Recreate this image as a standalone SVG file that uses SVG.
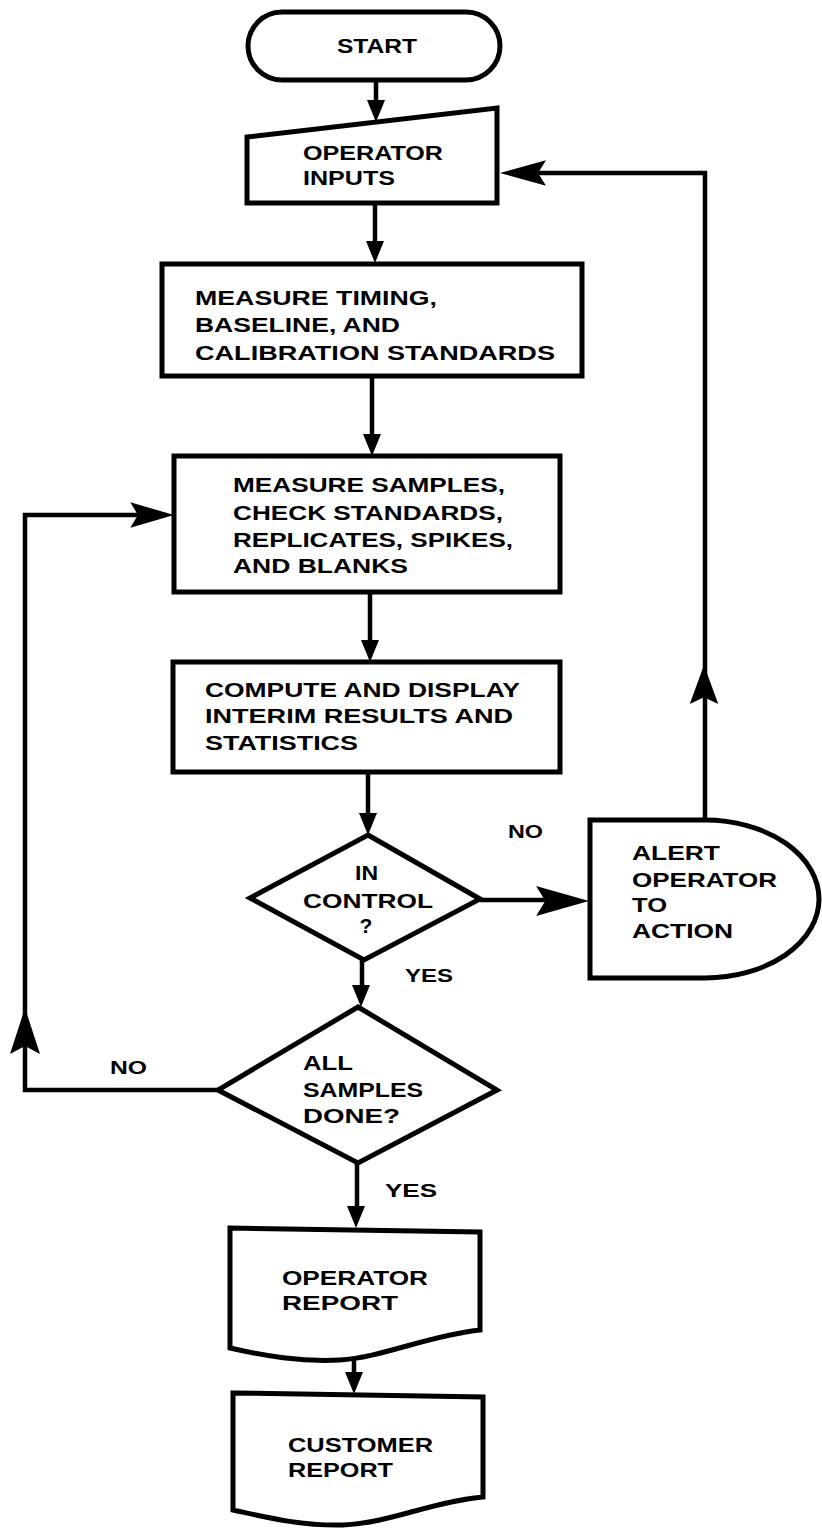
<svg xmlns="http://www.w3.org/2000/svg" width="822" height="1528" viewBox="0 0 822 1528">
<style>
.shape{fill:#fff;stroke:#000;stroke-width:5;stroke-linejoin:miter}
.line{fill:none;stroke:#000;stroke-width:4.5}
.head{fill:#000;stroke:none}
text{font-family:"Liberation Sans",Arial,sans-serif;font-weight:bold;font-size:21px;fill:#000}
.lbl{font-size:19px}
</style>
<defs>
<path id="big" d="M0,0 L-46,-15 L-38,0 L-46,15 Z"/>
<path id="small" d="M0,0 L-22,-9 L-22,9 Z"/>
</defs>
<rect width="822" height="1528" fill="#fff"/>
<g id="connectors">
<line class="line" x1="376" y1="80" x2="376" y2="104"/>
<use href="#small" class="head" transform="translate(376,122) rotate(90)"/>
<line class="line" x1="375" y1="203" x2="375" y2="245"/>
<use href="#small" class="head" transform="translate(375,263) rotate(90)"/>
<line class="line" x1="372" y1="376" x2="372" y2="438"/>
<use href="#small" class="head" transform="translate(372,456) rotate(90)"/>
<line class="line" x1="370" y1="592" x2="370" y2="645"/>
<use href="#small" class="head" transform="translate(370,662) rotate(90)"/>
<line class="line" x1="368" y1="772" x2="368" y2="818"/>
<use href="#small" class="head" transform="translate(368,835) rotate(90)"/>
<line class="line" x1="362" y1="960" x2="362" y2="990"/>
<use href="#small" class="head" transform="translate(361,1007) rotate(90)"/>
<line class="line" x1="357" y1="1163" x2="357" y2="1210"/>
<use href="#small" class="head" transform="translate(356,1228) rotate(90)"/>
<line class="line" x1="354" y1="1358" x2="354" y2="1376"/>
<use href="#small" class="head" transform="translate(354,1394) rotate(90)"/>
<polyline class="line" points="480,900 560,900"/>
<use href="#big" class="head" transform="translate(589,901) scale(1.15,1)"/>
<polyline class="line" points="705,820 705,173 530,173"/>
<use href="#big" class="head" transform="translate(704,665) rotate(-90) scale(0.85,0.95)"/>
<use href="#big" class="head" transform="translate(500,173) rotate(180) scale(1,0.85)"/>
<polyline class="line" points="218,1090 25,1090 25,515 150,515"/>
<use href="#big" class="head" transform="translate(25,1008) rotate(-90) scale(1,1)"/>
<use href="#big" class="head" transform="translate(174,515) scale(0.95,0.85)"/>
</g>
<g id="start">
<rect class="shape" x="248" y="12" width="252" height="68" rx="34"/>
<text x="337" y="53" textLength="80" lengthAdjust="spacingAndGlyphs">START</text>
</g>
<g id="operator-inputs">
<polygon class="shape" points="247,137 497,108 497,203 247,203"/>
<text x="303" y="160" textLength="140" lengthAdjust="spacingAndGlyphs">OPERATOR</text>
<text x="303" y="185" textLength="92" lengthAdjust="spacingAndGlyphs">INPUTS</text>
</g>
<g id="measure-timing">
<rect class="shape" x="162" y="264" width="420" height="112"/>
<text x="195" y="305" textLength="242" lengthAdjust="spacingAndGlyphs">MEASURE TIMING,</text>
<text x="195" y="332" textLength="205" lengthAdjust="spacingAndGlyphs">BASELINE, AND</text>
<text x="195" y="360" textLength="360" lengthAdjust="spacingAndGlyphs">CALIBRATION STANDARDS</text>
</g>
<g id="measure-samples">
<rect class="shape" x="174" y="456" width="386" height="136"/>
<text x="233" y="492" textLength="272" lengthAdjust="spacingAndGlyphs">MEASURE SAMPLES,</text>
<text x="233" y="520" textLength="270" lengthAdjust="spacingAndGlyphs">CHECK STANDARDS,</text>
<text x="233" y="547" textLength="280" lengthAdjust="spacingAndGlyphs">REPLICATES, SPIKES,</text>
<text x="233" y="573" textLength="175" lengthAdjust="spacingAndGlyphs">AND BLANKS</text>
</g>
<g id="compute">
<rect class="shape" x="173" y="662" width="387" height="110"/>
<text x="205" y="697" textLength="315" lengthAdjust="spacingAndGlyphs">COMPUTE AND DISPLAY</text>
<text x="205" y="723" textLength="308" lengthAdjust="spacingAndGlyphs">INTERIM RESULTS AND</text>
<text x="205" y="750" textLength="153" lengthAdjust="spacingAndGlyphs">STATISTICS</text>
</g>
<g id="in-control">
<polygon class="shape" points="368,835 480,899 364,960 250,898"/>
<text x="355" y="880" textLength="23" lengthAdjust="spacingAndGlyphs">IN</text>
<text x="303" y="908" textLength="130" lengthAdjust="spacingAndGlyphs">CONTROL</text>
<text x="366" y="933" text-anchor="middle">?</text>
</g>
<g id="alert">
<path class="shape" d="M590,820 L705,820 A114,79 0 0 1 705,978 L590,978 Z"/>
<text x="632" y="860" textLength="88" lengthAdjust="spacingAndGlyphs">ALERT</text>
<text x="632" y="887" textLength="145" lengthAdjust="spacingAndGlyphs">OPERATOR</text>
<text x="632" y="912" textLength="35" lengthAdjust="spacingAndGlyphs">TO</text>
<text x="632" y="938" textLength="101" lengthAdjust="spacingAndGlyphs">ACTION</text>
</g>
<g id="all-samples">
<polygon class="shape" points="358,1007 497,1090 358,1163 218,1090"/>
<text x="303" y="1070" textLength="50" lengthAdjust="spacingAndGlyphs">ALL</text>
<text x="303" y="1097" textLength="120" lengthAdjust="spacingAndGlyphs">SAMPLES</text>
<text x="303" y="1123" textLength="97" lengthAdjust="spacingAndGlyphs">DONE?</text>
</g>
<g id="labels">
<text class="lbl" x="508" y="838" textLength="35" lengthAdjust="spacingAndGlyphs">NO</text>
<text class="lbl" x="405" y="982" textLength="48" lengthAdjust="spacingAndGlyphs">YES</text>
<text class="lbl" x="110" y="1074" textLength="37" lengthAdjust="spacingAndGlyphs">NO</text>
<text class="lbl" x="385" y="1197" textLength="52" lengthAdjust="spacingAndGlyphs">YES</text>
</g>
<g id="operator-report">
<path class="shape" d="M230,1228 L480,1232 L480,1330 C430,1335 380,1358 340,1360 C300,1362 265,1356 230,1348 Z"/>
<text x="282" y="1285" textLength="146" lengthAdjust="spacingAndGlyphs">OPERATOR</text>
<text x="282" y="1310" textLength="116" lengthAdjust="spacingAndGlyphs">REPORT</text>
</g>
<g id="customer-report">
<path class="shape" d="M233,1393 L483,1397 L483,1497 C430,1502 390,1523 343,1525 C300,1526 265,1517 233,1510 Z"/>
<text x="288" y="1452" textLength="145" lengthAdjust="spacingAndGlyphs">CUSTOMER</text>
<text x="288" y="1477" textLength="105" lengthAdjust="spacingAndGlyphs">REPORT</text>
</g>
</svg>
